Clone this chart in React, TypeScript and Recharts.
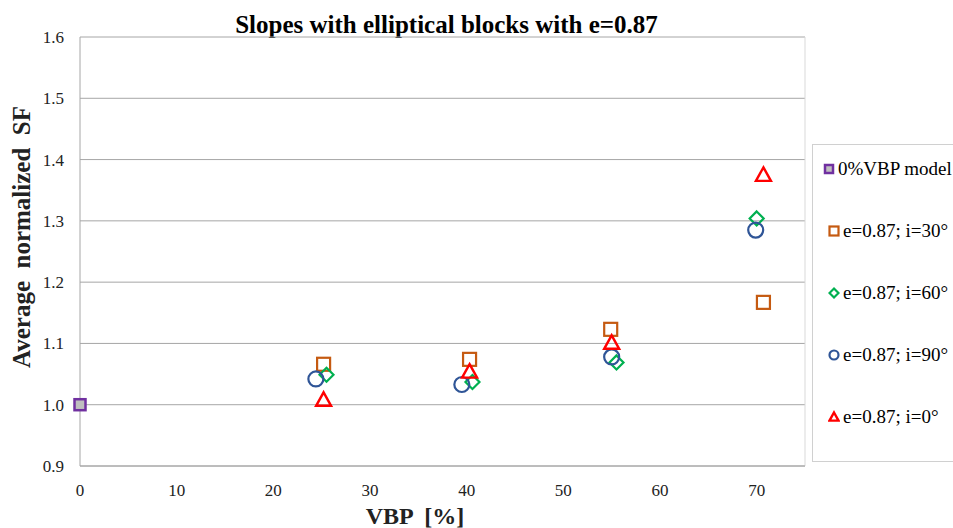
import { ScatterChart, Scatter, XAxis, YAxis, CartesianGrid, ReferenceLine } from 'recharts';

// values
const xTicks = [0, 10, 20, 30, 40, 50, 60, 70];
const yTicks = [0.9, 1.0, 1.1, 1.2, 1.3, 1.4, 1.5, 1.6];

const modelX = [0];
const modelY = [1.0];
const i30X = [25.2, 40.3, 54.9, 70.7];
const i30Y = [1.066, 1.074, 1.123, 1.167];
const i60X = [25.5, 40.6, 55.5, 70.0];
const i60Y = [1.049, 1.037, 1.069, 1.304];
const i90X = [24.4, 39.5, 55.0, 69.9];
const i90Y = [1.042, 1.033, 1.078, 1.285];
const i0X = [25.2, 40.3, 55.0, 70.7];
const i0Y = [1.008, 1.054, 1.101, 1.375];

const toPoints = (xs: number[], ys: number[]) => xs.map((x, i) => ({ x, y: ys[i] }));

const PURPLE = '#7030a0';
const ORANGE = '#c55a11';
const GREEN = '#00b050';
const BLUE = '#2f5597';
const RED = '#ff0000';

const FONT = '"Liberation Serif", "Times New Roman", serif';

type Kind = 'model' | 'square' | 'diamond' | 'circle' | 'triangle';

function Marker({ kind, cx, cy, s }: { kind: Kind; cx: number; cy: number; s: number }) {
  const h = s / 2;
  switch (kind) {
    case 'model':
      return <rect x={cx - h} y={cy - h} width={s} height={s} fill="#bfbfbf" stroke={PURPLE} strokeWidth={2.5} />;
    case 'square':
      return <rect x={cx - h} y={cy - h} width={s} height={s} fill="none" stroke={ORANGE} strokeWidth={2.2} />;
    case 'diamond':
      return (
        <polygon
          points={`${cx},${cy - h} ${cx + h},${cy} ${cx},${cy + h} ${cx - h},${cy}`}
          fill="none"
          stroke={GREEN}
          strokeWidth={2.2}
        />
      );
    case 'circle':
      return <circle cx={cx} cy={cy} r={h} fill="none" stroke={BLUE} strokeWidth={2.2} />;
    case 'triangle':
      return (
        <polygon
          points={`${cx},${cy - h} ${cx + h},${cy + h * 0.8} ${cx - h},${cy + h * 0.8}`}
          fill="none"
          stroke={RED}
          strokeWidth={2.4}
        />
      );
  }
}

const shapeOf = (kind: Kind, s: number) => (props: any) => <Marker kind={kind} cx={props.cx} cy={props.cy} s={s} />;

const legendItems: { label: string; kind: Kind }[] = [
  { label: '0%VBP model', kind: 'model' },
  { label: 'e=0.87; i=30°', kind: 'square' },
  { label: 'e=0.87; i=60°', kind: 'diamond' },
  { label: 'e=0.87; i=90°', kind: 'circle' },
  { label: 'e=0.87; i=0°', kind: 'triangle' },
];

function LegendBox() {
  return (
    <div
      style={{
        position: 'absolute',
        left: 812,
        top: 144,
        width: 150,
        height: 318,
        border: '1px solid #d0d0d0',
        boxSizing: 'border-box',
        fontFamily: FONT,
        fontSize: 19,
        color: '#000',
        paddingTop: 13,
      }}
    >
      {legendItems.map((it) => (
        <div
          key={it.label}
          style={{ height: 62, display: 'flex', alignItems: 'flex-start', paddingLeft: it.kind === 'model' ? 10 : 15 }}
        >
          <svg width={12} height={22} style={{ marginRight: 3, flex: 'none' }}>
            <Marker kind={it.kind} cx={6} cy={11} s={it.kind === 'model' ? 8 : 9} />
          </svg>
          <span style={{ lineHeight: '22px', whiteSpace: 'nowrap' }}>{it.label}</span>
        </div>
      ))}
    </div>
  );
}

export default function App() {
  return (
    <div style={{ position: 'absolute', left: 0, top: 0, width: 953, height: 528, background: '#fff', overflow: 'hidden' }}>
      <div
        style={{
          position: 'absolute',
          left: 0,
          top: 11,
          width: 893,
          textAlign: 'center',
          fontFamily: FONT,
          fontWeight: 'bold',
          fontSize: 25,
        }}
      >
        Slopes with elliptical blocks with e=0.87
      </div>
      <ScatterChart width={953} height={528} margin={{ top: 37, right: 148, bottom: 32, left: 20 }}>
        <CartesianGrid vertical={false} stroke="#a6a6a6" />
        <XAxis
          type="number"
          dataKey="x"
          domain={[0, 75]}
          ticks={xTicks}
          interval={0}
          tickLine={false}
          axisLine={{ stroke: '#a6a6a6' }}
          tick={{ fill: '#222', fontSize: 17, fontFamily: FONT }}
          tickMargin={12}
          height={30}
          label={{
            content: () => (
              <text
                x={415}
                y={524}
                textAnchor="middle"
                fontFamily={FONT}
                fontWeight="bold"
                fontSize={24}
                fill="#222"
                style={{ whiteSpace: 'pre' }}
              >
                VBP  [%]
              </text>
            ),
          }}
        />
        <YAxis
          type="number"
          dataKey="y"
          domain={[0.9, 1.6]}
          ticks={yTicks}
          interval={0}
          tickLine={false}
          axisLine={{ stroke: '#a6a6a6' }}
          tick={{ fill: '#222', fontSize: 17, fontFamily: FONT }}
          tickFormatter={(v: number) => v.toFixed(1)}
          tickMargin={10}
          width={60}
          label={{
            content: () => (
              <text
                x={21}
                y={237}
                transform="rotate(-90 21 237)"
                textAnchor="middle"
                dominantBaseline="central"
                fontFamily={FONT}
                fontWeight="bold"
                fontSize={25}
                fill="#222"
                style={{ whiteSpace: 'pre' }}
              >
                Average  normalized  SF
              </text>
            ),
          }}
        />
        <ReferenceLine x={75} stroke="#d9d9d9" />
        <Scatter name="0%VBP model" data={toPoints(modelX, modelY)} shape={shapeOf('model', 11)} isAnimationActive={false} />
        <Scatter name="e=0.87; i=30°" data={toPoints(i30X, i30Y)} shape={shapeOf('square', 13)} isAnimationActive={false} />
        <Scatter name="e=0.87; i=60°" data={toPoints(i60X, i60Y)} shape={shapeOf('diamond', 14)} isAnimationActive={false} />
        <Scatter name="e=0.87; i=90°" data={toPoints(i90X, i90Y)} shape={shapeOf('circle', 15)} isAnimationActive={false} />
        <Scatter name="e=0.87; i=0°" data={toPoints(i0X, i0Y)} shape={shapeOf('triangle', 15)} isAnimationActive={false} />
      </ScatterChart>
      <LegendBox />
    </div>
  );
}
